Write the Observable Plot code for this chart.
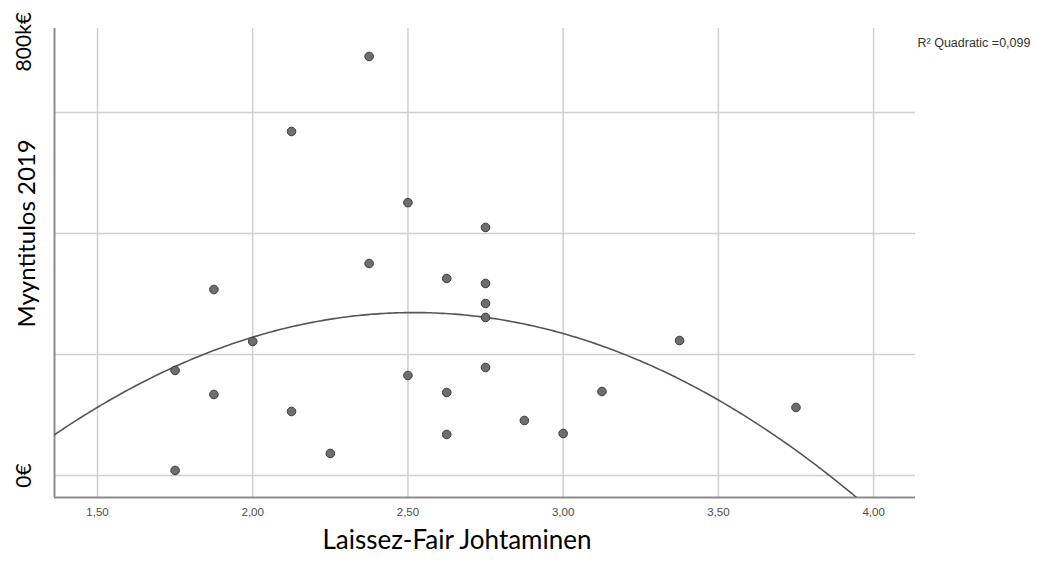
<!DOCTYPE html>
<html>
<head>
<meta charset="utf-8">
<script src="https://cdn.jsdelivr.net/npm/d3@7"></script>
<script src="https://cdn.jsdelivr.net/npm/@observablehq/plot@0.6"></script>
<style>
  html, body { margin: 0; padding: 0; background: #fff; }
  #chart svg { display: block; }
</style>
</head>
<body>
<div id="chart"></div>
<script>
// Laissez-Fair Johtaminen score (x) and Myyntitulos 2019 in k€ (y)
const leadership = [2.375, 2.125, 2.50, 2.75, 2.375, 2.625, 2.75, 1.875, 2.75, 2.75, 2.00, 3.375, 1.75, 2.75, 2.50, 2.625, 3.125, 1.875, 3.75, 2.125, 2.875, 2.625, 3.00, 2.25, 1.75];
const sales = [692.6, 568.6, 451.0, 410.0, 350.4, 325.6, 317.4, 307.4, 284.3, 261.2, 221.5, 223.1, 173.6, 178.5, 165.3, 137.2, 138.8, 133.9, 112.4, 105.8, 90.9, 67.8, 69.4, 36.4, 8.3];
const xTicks = [1.5, 2.0, 2.5, 3.0, 3.5, 4.0];
const yGrid = [0, 200, 400, 600];
const yTickValues = [0, 717];
const yTickLabels = ["0€", "800k€"];
const xTitle = "Laissez-Fair Johtaminen";
const yTitle = "Myyntitulos 2019";
const r2Label = "R² Quadratic =0,099";

const points = leadership.map((x, i) => ({x, y: sales[i]}));

// least-squares quadratic fit y = c0 + c1 x + c2 x^2
function quadFit(xs, ys) {
  const S = Array.from({length: 5}, (_, k) => d3.sum(xs, x => x ** k));
  const T = Array.from({length: 3}, (_, k) => d3.sum(xs, (x, i) => ys[i] * x ** k));
  const A = [[S[0], S[1], S[2], T[0]], [S[1], S[2], S[3], T[1]], [S[2], S[3], S[4], T[2]]];
  for (let i = 0; i < 3; i++) {
    for (let j = i + 1; j < 3; j++) {
      const f = A[j][i] / A[i][i];
      for (let k = i; k < 4; k++) A[j][k] -= f * A[i][k];
    }
  }
  const c = [0, 0, 0];
  for (let i = 2; i >= 0; i--) {
    let s = A[i][3];
    for (let k = i + 1; k < 3; k++) s -= A[i][k] * c[k];
    c[i] = s / A[i][i];
  }
  return c;
}
const coef = quadFit(leadership, sales);
const xDomain = [1.3615, 4.135];
const yDomain = [-36.4, 738.8];
const fitLine = d3.range(xDomain[0], xDomain[1] + 0.001, 0.01).map(x => ({x, y: coef[0] + coef[1] * x + coef[2] * x * x}));

const yTicks = yTickValues.map((v, i) => ({y: v, label: yTickLabels[i]}));

const font = "Lato, 'Open Sans', sans-serif";

const chart = Plot.plot({
  width: 1051,
  height: 562,
  marginLeft: 54,
  marginRight: 136,
  marginTop: 28,
  marginBottom: 65,
  style: {fontFamily: font, background: "#fff", overflow: "visible"},
  x: {domain: xDomain},
  y: {domain: yDomain},
  marks: [
    Plot.ruleX(xTicks, {stroke: "#cfcfcf", strokeWidth: 1.5}),
    Plot.ruleY(yGrid, {stroke: "#cfcfcf", strokeWidth: 1.5}),
    Plot.ruleX([xDomain[0]], {stroke: "#8c8c8c", strokeWidth: 2}),
    Plot.ruleY([yDomain[0]], {stroke: "#8c8c8c", strokeWidth: 2}),
    Plot.axisX({ticks: xTicks, tickSize: 0, tickPadding: 10, fontSize: 11.5, fill: "#4a4a4a", tickFormat: d => d.toFixed(2).replace(".", ","), label: null, fontFamily: "'Liberation Sans', Arial, sans-serif"}),
    Plot.axisY({ticks: [], label: null, tickSize: 0}),
    Plot.line(fitLine, {x: "x", y: "y", stroke: "#555", strokeWidth: 1.6, clip: true}),
    Plot.dot(points, {x: "x", y: "y", r: 4.3, fill: "#6e6e6e", stroke: "#3a3a3a", strokeWidth: 1}),
    Plot.text(yTicks, {y: "y", text: "label", frameAnchor: "left", textAnchor: "middle", dx: -30, rotate: -90, fontSize: 21, fill: "#000", fontFamily: font}),
    Plot.text([yTitle], {y: [400], frameAnchor: "left", textAnchor: "middle", dx: -27, rotate: -90, fontSize: 24, fill: "#000", fontFamily: font}),
    Plot.text([xTitle], {x: [2.658], frameAnchor: "bottom", textAnchor: "middle", dy: 51, fontSize: 26, fill: "#000", fontFamily: font}),
    Plot.text([r2Label], {frameAnchor: "top-right", dx: 2, dy: 10, textAnchor: "start", fontSize: 12.5, fill: "#333", fontFamily: "'Liberation Sans', Arial, sans-serif"})
  ]
});
document.getElementById("chart").appendChild(chart);
</script>
</body>
</html>
